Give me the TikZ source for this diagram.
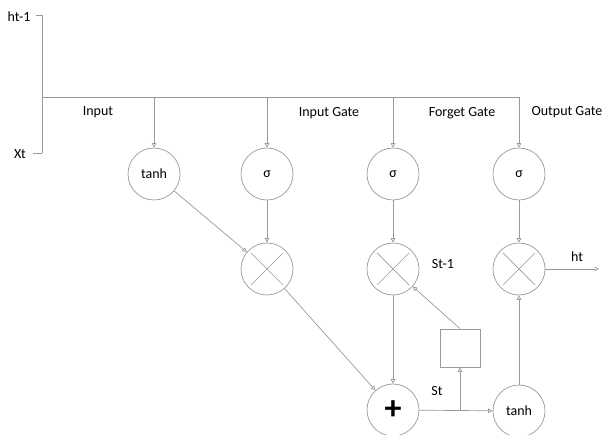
\documentclass[tikz,border=0pt]{standalone}
\usepackage{fontspec}
\setmainfont{Carlito}
\usetikzlibrary{arrows.meta}
\definecolor{ln}{HTML}{9A9A9A}
\tikzset{
  circ/.style={circle,draw=ln,line width=0.7pt,minimum size=52pt,inner sep=0pt,font=\fontsize{14}{16}\selectfont},
  sqbox/.style={rectangle,draw=ln,line width=0.7pt,minimum width=40pt,minimum height=38pt,inner sep=0pt},
  lbl/.style={font=\fontsize{14}{16}\selectfont,inner sep=0pt},
  wire/.style={draw=ln,line width=0.7pt},
  arr/.style={wire,-{Triangle[open,length=4.5pt,width=4.5pt]}}
}
\begin{document}
\begin{tikzpicture}[x=1pt,y=-1pt]
\useasboundingbox (0,0) rectangle (603,435);
% inputs
\coordinate (htop) at (42,15);
\coordinate (xbot) at (42,153);
\coordinate (jn) at (42,97);
\node[lbl] (hlab) at (19,17) {ht-1};
\node[lbl] (xlab) at (20,154) {Xt};
\draw[wire] (hlab.east) ++(5,-2) coordinate (ht1) -- (htop);
\draw[wire] (htop) -- (xbot);
\draw[wire] (xlab.east) ++(7,-1) coordinate (xt1) -- (xbot);
% gate nodes
\node[circ] (tin) at (154,174) {tanh};
\node[circ] (sa) at (267,174) {σ};
\node[circ] (sb) at (393,174) {σ};
\node[circ] (sc) at (519,174) {σ};
\node[circ] (ma) at (267,269) {};
\node[circ] (mb) at (393,269) {};
\node[circ] (mc) at (519,269) {};
\node[circ] (plus) at (393,410) {\fontsize{34}{34}\selectfont\bfseries +};
\node[circ] (tout) at (519,411) {tanh};
\node[sqbox] (bx) at (460,348) {};
\foreach \m in {ma,mb,mc}{
  \draw[wire] (\m.center) ++(-16,-16) -- ++(32,32);
  \draw[wire] (\m.center) ++(16,-16) -- ++(-32,32);
}
% bus
\coordinate (bend) at (sc |- jn);
\draw[wire] (jn) -- (bend);
\foreach \g in {tin,sa,sb,sc}{
  \draw[arr] (\g |- jn) -- (\g.north);
}
% labels
\node[lbl] (l1) at (98,112) {Input};
\node[lbl] (l2) at (329,113) {Input Gate};
\node[lbl] (l3) at (462,113) {Forget Gate};
\node[lbl] (l4) at (567,112) {Output Gate};
\node[lbl] (l5) at (443,264) {St-1};
\node[lbl] (l6) at (437,391) {St};
\node[lbl] (l7) at (577,257) {ht};
% connections
\draw[arr] (tin) -- (ma);
\draw[arr] (sa) -- (ma);
\draw[arr] (sb) -- (mb);
\draw[arr] (sc) -- (mc);
\draw[arr] (ma) -- (plus);
\draw[arr] (mb) -- (plus);
\draw[arr] (plus) -- (tout);
\coordinate (stj) at (bx |- plus);
\draw[arr] (stj) -- (bx.south);
\draw[arr] (bx.north) -- (mb);
\draw[arr] (tout) -- (mc);
\coordinate (hend) at (599,269);
\draw[arr] (mc) -- (hend);
\end{tikzpicture}
\end{document}
